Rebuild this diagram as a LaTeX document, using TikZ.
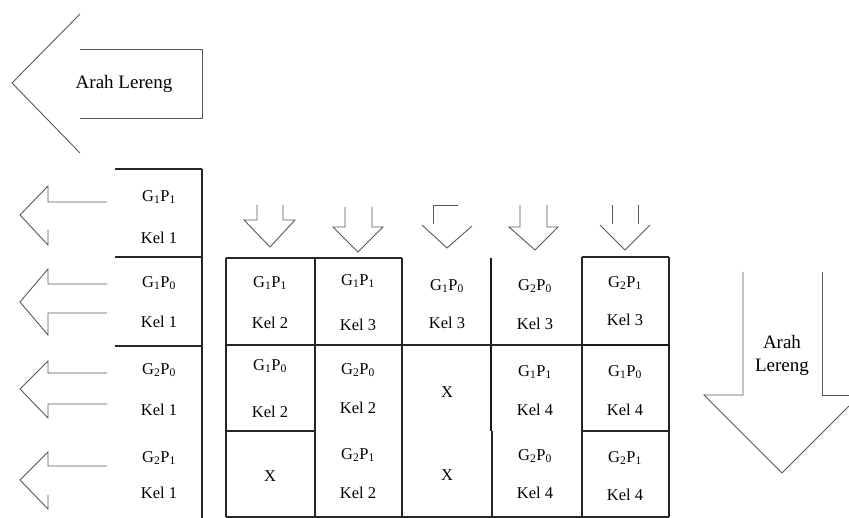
\documentclass[tikz,border=0pt]{standalone}
\usepackage{fontspec}
\setmainfont{Liberation Serif}
\begin{document}
\begin{tikzpicture}[x=1pt,y=-1pt,
  grid/.style={draw=black!85,line width=1.1pt},
  gridthick/.style={draw=black!90,line width=2pt},
  arr/.style={draw=black!65,line width=0.9pt,line join=miter},
  lbl/.style={font=\fontsize{16.5}{18}\selectfont,text=black,inner sep=0pt},
  big/.style={font=\fontsize{19}{23}\selectfont,text=black,inner sep=0pt,align=center}]
\useasboundingbox (0,0) rectangle (849,518);
\newcommand{\gp}[2]{G\textsubscript{#1}P\textsubscript{#2}}

% big left arrow
\draw[arr] (80,14) -- (12,83) -- (80,153);
\draw[arr] (80,49) -- (202,49) -- (202,118) -- (80,118);
\node[big] (arahA) at (124,84) {Arah Lereng};

% left column
\draw[grid] (115,169) -- (202,169);
\draw[grid] (115,257) -- (202,257);
\draw[grid] (115,346) -- (202,346);
\draw[grid] (202,169) -- (202,518);
\node[lbl] (l1a) at (159,197) {\gp{1}{1}};
\node[lbl] (l1b) at (159,238) {Kel 1};
\node[lbl] (l2a) at (159,283) {\gp{1}{0}};
\node[lbl] (l2b) at (159,322) {Kel 1};
\node[lbl] (l3a) at (159,370) {\gp{2}{0}};
\node[lbl] (l3b) at (159,410) {Kel 1};
\node[lbl] (l4a) at (159,458) {\gp{2}{1}};
\node[lbl] (l4b) at (159,493) {Kel 1};

% small left arrows
\draw[arr] (107,202) -- (48,202) -- (48,186) -- (20,215) -- (48,245) -- (48,230);
\draw[arr] (107,284) -- (48,284) -- (48,269) -- (20,302) -- (48,335) -- (48,313) -- (107,313);
\draw[arr] (107,373) -- (48,373) -- (48,361) -- (20,389) -- (48,418) -- (48,404) -- (107,404);
\draw[arr] (107,466) -- (48,466) -- (48,452) -- (20,480) -- (48,509) -- (48,495);

% top arrows
\draw[arr] (257,205) -- (257,220) -- (244,220) -- (270,247) -- (295,220) -- (283,220) -- (283,205);
\draw[arr] (345,207) -- (345,227) -- (333,227) -- (358,252) -- (383,227) -- (372,227) -- (372,207);
\draw[arr] (458,205) -- (433,205) -- (433,224);
\draw[arr] (422,225) -- (447,248) -- (472,226);
\draw[arr] (520,205) -- (520,227) -- (509,227) -- (535,250) -- (558,227) -- (547,227) -- (547,205);
\draw[arr] (612,205) -- (612,224);
\draw[arr] (638,205) -- (638,224);
\draw[arr] (600,225) -- (625,250) -- (650,225);

% main grid
\draw[grid] (226,258) -- (402,258);
\draw[grid] (582,257) -- (669,257);
\draw[grid] (226,258) -- (226,517);
\draw[grid] (315,258) -- (315,517);
\draw[grid] (402,258) -- (402,517);
\draw[gridthick] (491,258) -- (491,431);
\draw[grid] (492,431) -- (492,517);
\draw[grid] (582,257) -- (582,517);
\draw[grid] (669,257) -- (669,517);
\draw[grid] (226,345) -- (582,345);
\draw[gridthick] (582,345) -- (669,345);
\draw[grid] (226,431) -- (315,431);
\draw[grid] (582,431) -- (669,431);
\draw[grid] (226,517) -- (669,517);

% row 1
\node[lbl] (c11a) at (270,283) {\gp{1}{1}};
\node[lbl] (c11b) at (270,323) {Kel 2};
\node[lbl] (c21a) at (358,281) {\gp{1}{1}};
\node[lbl] (c21b) at (358,325) {Kel 3};
\node[lbl] (c31a) at (447,286) {\gp{1}{0}};
\node[lbl] (c31b) at (447,323) {Kel 3};
\node[lbl] (c41a) at (535,286) {\gp{2}{0}};
\node[lbl] (c41b) at (535,324) {Kel 3};
\node[lbl] (c51a) at (625,283) {\gp{2}{1}};
\node[lbl] (c51b) at (625,320) {Kel 3};
% row 2
\node[lbl] (c12a) at (270,366) {\gp{1}{0}};
\node[lbl] (c12b) at (270,412) {Kel 2};
\node[lbl] (c22a) at (358,370) {\gp{2}{0}};
\node[lbl] (c22b) at (358,408) {Kel 2};
\node[lbl] (c32) at (447,392) {X};
\node[lbl] (c42a) at (535,372) {\gp{1}{1}};
\node[lbl] (c42b) at (535,410) {Kel 4};
\node[lbl] (c52a) at (625,372) {\gp{1}{0}};
\node[lbl] (c52b) at (625,410) {Kel 4};
% row 3
\node[lbl] (c13) at (270,476) {X};
\node[lbl] (c23a) at (358,455) {\gp{2}{1}};
\node[lbl] (c23b) at (358,493) {Kel 2};
\node[lbl] (c33) at (447,475) {X};
\node[lbl] (c43a) at (535,456) {\gp{2}{0}};
\node[lbl] (c43b) at (535,493) {Kel 4};
\node[lbl] (c53a) at (625,458) {\gp{2}{1}};
\node[lbl] (c53b) at (625,495) {Kel 4};

% big right arrow
\draw[arr] (743,272) -- (743,395) -- (704,395) -- (782,473) -- (849,406);
\draw[arr] (822,272) -- (822,395) -- (849,395);
\node[big] (arahB) at (782,355) {Arah\\Lereng};
\end{tikzpicture}
\end{document}
